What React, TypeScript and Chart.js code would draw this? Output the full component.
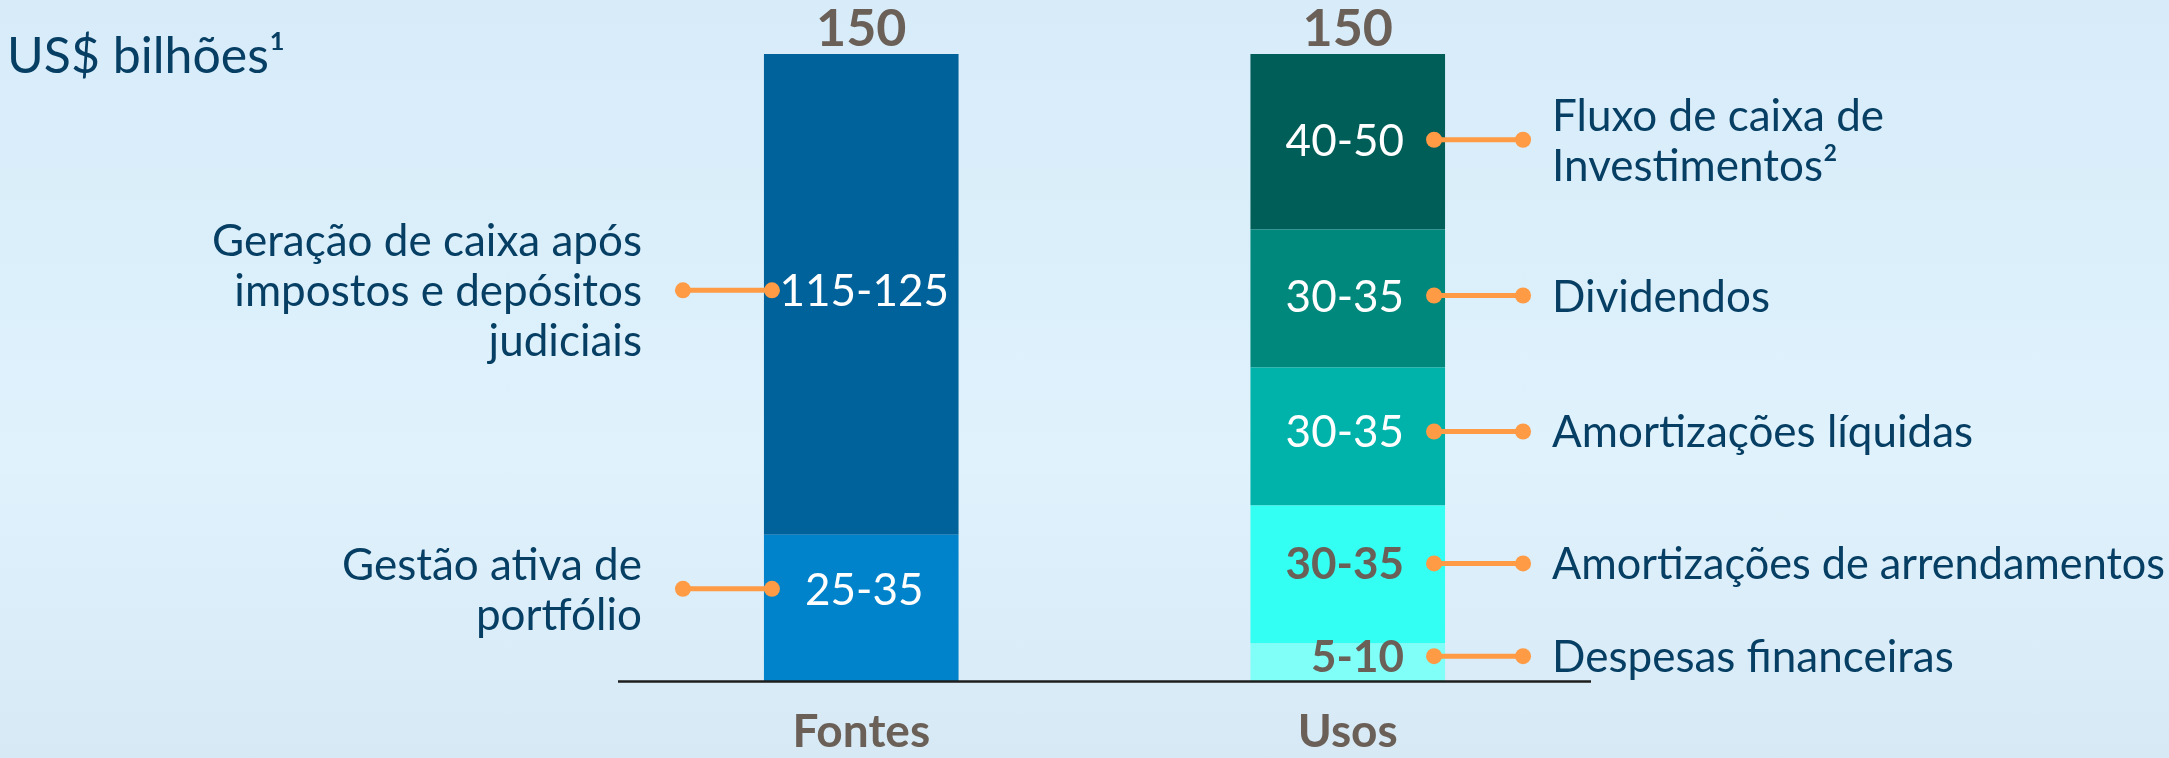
import React, { useEffect, useRef } from 'react';
import { Chart, registerables } from 'chart.js';

Chart.register(...registerables);

// ---------- data ----------
const categories = ['Fontes', 'Usos'];
const totals = [150, 150];
const unitLabel = 'US$ bilhões¹';

// bottom → top
const fontesValues = [35, 115];
const fontesRanges = ['25-35', '115-125'];
const fontesNames = [
  ['Gestão ativa de', 'portfólio'],
  ['Geração de caixa após', 'impostos e depósitos', 'judiciais'],
];

const usosValues = [9, 33, 33, 33, 42];
const usosRanges = ['5-10', '30-35', '30-35', '30-35', '40-50'];
const usosNames = [
  ['Despesas financeiras'],
  ['Amortizações de arrendamentos'],
  ['Amortizações líquidas'],
  ['Dividendos'],
  ['Fluxo de caixa de', 'Investimentos²'],
];

// ---------- styles ----------
const fontesColors = ['#0083CA', '#00629A'];
const usosColors = ['#80FFF8', '#33FFF2', '#00B3AA', '#00887C', '#005E58'];
const usosRangeColors = ['#6B6058', '#6B6058', '#FFFFFF', '#FFFFFF', '#FFFFFF'];
const usosRangeBold = [true, true, false, false, false];
const fontesShift = [-19, -4];
const usosShift = [-6, -11, -5, -3, -2];
const TEXT_BLUE = '#063F63';
const BROWN = '#6B6058';
const ORANGE = '#FF9A45';
const FONT = 'Lato, "Open Sans", sans-serif';

export default function App() {
  const ref = useRef<HTMLCanvasElement | null>(null);

  useEffect(() => {
    let chart: Chart | null = null;
    let cancelled = false;

    const overlay = {
      id: 'overlay',
      afterDatasetsDraw(c: any) {
        const ctx = c.ctx as CanvasRenderingContext2D;
        const area = c.chartArea;
        const yScale = c.scales.y;
        const xScale = c.scales.x;
        ctx.save();

        // baseline axis
        ctx.strokeStyle = '#1E1E1E';
        ctx.lineWidth = 2.5;
        ctx.beginPath();
        ctx.moveTo(area.left, area.bottom + 0.5);
        ctx.lineTo(area.right, area.bottom + 0.5);
        ctx.stroke();

        // unit label
        ctx.fillStyle = TEXT_BLUE;
        ctx.font = `50px ${FONT}`;
        ctx.textAlign = 'left';
        ctx.textBaseline = 'alphabetic';
        ctx.fillText(unitLabel, 7, 73);

        // totals & categories
        categories.forEach((cat, i) => {
          const x = xScale.getPixelForValue(i);
          ctx.fillStyle = BROWN;
          ctx.textAlign = 'center';
          ctx.font = `bold 52px ${FONT}`;
          ctx.fillText(String(totals[i]), x, yScale.getPixelForValue(totals[i]) - 8);
          ctx.font = `bold 46px ${FONT}`;
          ctx.fillText(cat, x, 747);
        });

        const connector = (x1: number, x2: number, y: number) => {
          ctx.strokeStyle = ORANGE;
          ctx.fillStyle = ORANGE;
          ctx.lineWidth = 5;
          ctx.beginPath();
          ctx.moveTo(x1, y);
          ctx.lineTo(x2, y);
          ctx.stroke();
          [x1, x2].forEach((x) => {
            ctx.beginPath();
            ctx.arc(x, y, 8, 0, Math.PI * 2);
            ctx.fill();
          });
        };

        const drawLines = (lines: string[], x: number, cy: number, align: CanvasTextAlign, maxW?: number) => {
          ctx.fillStyle = TEXT_BLUE;
          ctx.font = `44px ${FONT}`;
          ctx.textAlign = align;
          const n = lines.length;
          lines.forEach((t, k) => {
            const yy = cy + (k - (n - 1) / 2) * 50 + 16;
            if (maxW) ctx.fillText(t, x, yy, maxW);
            else ctx.fillText(t, x, yy);
          });
        };

        // Fontes
        fontesValues.forEach((_, i) => {
          const bar: any = c.getDatasetMeta(i).data[0];
          const left = bar.x - bar.width / 2;
          const cy = (bar.y + bar.base) / 2 + fontesShift[i];
          connector(left - 81, left + 8, cy);
          ctx.fillStyle = '#FFFFFF';
          ctx.font = `44px ${FONT}`;
          ctx.textAlign = 'center';
          ctx.fillText(fontesRanges[i], bar.x + 3, cy + 16);
          drawLines(fontesNames[i], left - 122, cy, 'right');
        });

        // Usos
        usosValues.forEach((_, j) => {
          const bar: any = c.getDatasetMeta(fontesValues.length + j).data[1];
          const right = bar.x + bar.width / 2;
          const cy = (bar.y + bar.base) / 2 + usosShift[j];
          connector(right - 11, right + 78, cy);
          ctx.fillStyle = usosRangeColors[j];
          ctx.font = `${usosRangeBold[j] ? 'bold ' : ''}44px ${FONT}`;
          ctx.textAlign = 'right';
          ctx.fillText(usosRanges[j], right - 41, cy + 16);
          const startX = right + 107;
          drawLines(usosNames[j], startX, cy, 'left', c.width - startX - 4);
        });

        ctx.restore();
      },
    };

    const datasets: any[] = [];
    fontesValues.forEach((v, i) => {
      datasets.push({
        label: fontesRanges[i],
        data: [v, null],
        backgroundColor: fontesColors[i],
        stack: 'one',
        barPercentage: 0.4,
        categoryPercentage: 1,
        borderWidth: 0,
      });
    });
    usosValues.forEach((v, j) => {
      datasets.push({
        label: usosRanges[j],
        data: [null, v],
        backgroundColor: usosColors[j],
        stack: 'one',
        barPercentage: 0.4,
        categoryPercentage: 1,
        borderWidth: 0,
      });
    });

    const build = () => {
      if (cancelled || !ref.current) return;
      chart = new Chart(ref.current, {
        type: 'bar',
        data: { labels: categories, datasets },
        options: {
          responsive: false,
          animation: false,
          devicePixelRatio: 1,
          layout: { padding: { left: 618, right: 578, top: 54, bottom: 77 } },
          scales: {
            x: { display: false, stacked: true },
            y: { display: false, stacked: true, min: 0, max: 150 },
          },
          plugins: { legend: { display: false }, tooltip: { enabled: false } },
        },
        plugins: [overlay],
      });
    };

    const fontsAny: any = (document as any).fonts;
    if (fontsAny && fontsAny.load) {
      Promise.all([
        fontsAny.load(`44px Lato`),
        fontsAny.load(`bold 44px Lato`),
      ]).then(build, build);
    } else {
      build();
    }

    return () => {
      cancelled = true;
      if (chart) chart.destroy();
    };
  }, []);

  return (
    <div
      style={{
        position: 'absolute',
        left: 0,
        top: 0,
        width: 2169,
        height: 758,
        background: 'linear-gradient(180deg, #d7ebf9 0%, #dcf0fb 40%, #e0f2fc 60%, #d6e9f5 100%)',
      }}
    >
      <canvas ref={ref} width={2169} height={758} style={{ display: 'block' }} />
    </div>
  );
}
